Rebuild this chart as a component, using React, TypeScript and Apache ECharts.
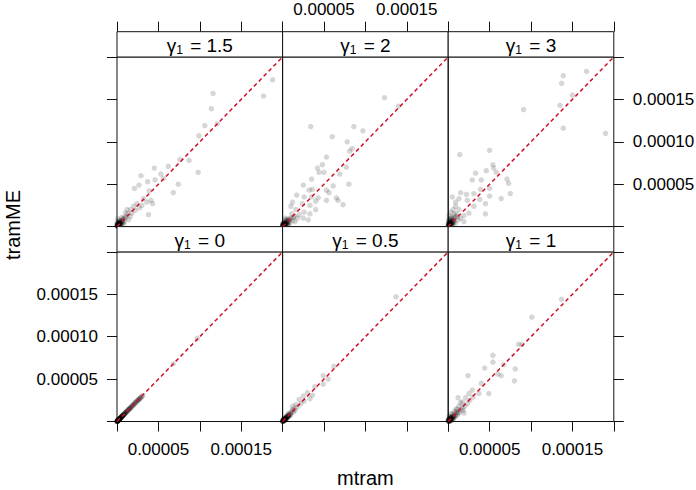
import React, { useEffect, useRef } from "react";
import * as echarts from "echarts";

// all values below are in units of 1e-5
const SCALE = 1e-5;
const AXIS_MIN = 0;
const AXIS_MAX = 20;
const AXIS_STEP = 5;

const panelGammas = ["0", "0.5", "1", "1.5", "2", "3"];
const xTickValues = [5, 15];
const yTickValues = [5, 10, 15];
const xTitle = "mtram";
const yTitle = "tramME";

const g0_mtram = [0.02, 0.05, 0.08, 0.1, 0.12, 0.15, 0.18, 0.2, 0.22, 0.25, 0.28, 0.3, 0.33, 0.36, 0.4, 0.43, 0.47, 0.5, 0.55, 0.6, 0.65, 0.7, 0.75, 0.8, 0.9, 1.0, 1.05, 1.15, 1.25, 1.35, 1.45, 1.55, 1.7, 1.85, 2.0, 2.2, 2.4, 2.6, 2.75, 3.1, 0.04, 0.12, 0.26, 0.38, 0.58, 0.85, 6.8, 9.7,
  0.01, 0.03, 0.06, 0.09, 0.11, 0.14, 0.16, 0.19, 0.21, 0.24, 0.27, 0.31, 0.34, 0.42, 0.45, 0.52, 0.62, 0.68, 0.78, 0.95, 1.1, 1.3, 1.5, 1.65, 1.9, 2.1, 2.3, 2.5, 2.7, 2.9,
  0.0, 0.02, 0.04, 0.07, 0.1, 0.13, 0.17, 0.23, 0.29, 0.35, 0.44, 0.56, 0.66, 0.72, 0.88, 0.98, 1.2, 1.4, 1.6, 1.8, 2.05, 2.25, 2.55, 2.8, 3.0, 0.06, 0.09, 0.15, 0.32, 0.48];
const g0_tramME = [0.03, 0.05, 0.07, 0.11, 0.12, 0.14, 0.19, 0.2, 0.23, 0.24, 0.29, 0.3, 0.32, 0.37, 0.4, 0.44, 0.46, 0.51, 0.54, 0.61, 0.64, 0.71, 0.74, 0.81, 0.89, 1.01, 1.04, 1.16, 1.24, 1.36, 1.44, 1.56, 1.69, 1.86, 2.0, 2.19, 2.42, 2.58, 2.7, 3.05, 0.05, 0.13, 0.25, 0.39, 0.57, 0.86, 6.8, 9.8,
  0.01, 0.04, 0.06, 0.08, 0.12, 0.13, 0.17, 0.18, 0.22, 0.25, 0.26, 0.31, 0.35, 0.41, 0.46, 0.52, 0.61, 0.69, 0.77, 0.94, 1.12, 1.28, 1.52, 1.63, 1.88, 2.12, 2.28, 2.47, 2.68, 2.85,
  0.0, 0.02, 0.05, 0.06, 0.1, 0.14, 0.16, 0.24, 0.28, 0.36, 0.43, 0.57, 0.65, 0.73, 0.87, 0.99, 1.18, 1.42, 1.58, 1.81, 2.03, 2.27, 2.5, 2.75, 2.95, 0.07, 0.08, 0.16, 0.31, 0.49];

const g05_mtram = [13.7, 6.2, 4.9, 5.5, 4.9, 3.9, 3.0, 3.6, 2.5, 2.0, 3.3, 1.6, 1.2, 0.1, 0.2, 0.3, 0.4, 0.5, 0.6, 0.7, 0.8, 0.9, 1.0, 1.1, 1.3, 1.4, 0.15, 0.25, 0.35, 0.05, 0.45, 0.55, 0.75, 0.65, 1.2, 1.5, 1.8, 2.2, 0.95, 0.3, 0.1, 0.02, 2.6,
  0.05, 0.12, 0.18, 0.22, 0.28, 0.33, 0.38, 0.42, 0.48, 0.52, 0.58, 0.62, 0.68, 0.72, 0.85, 0.02, 0.08, 0.16, 0.24, 0.4,
  0.0, 0.03, 0.06, 0.09, 0.13, 0.17, 0.21, 0.26, 0.31, 0.36, 0.02, 0.11];
const g05_tramME = [14.7, 6.5, 5.4, 5.0, 4.4, 4.1, 3.4, 3.1, 3.0, 2.6, 2.7, 2.0, 1.8, 0.1, 0.15, 0.35, 0.3, 0.55, 0.5, 0.8, 0.7, 1.0, 0.9, 1.2, 1.1, 1.5, 0.25, 0.1, 0.2, 0.05, 0.6, 0.4, 0.6, 0.9, 1.4, 1.3, 1.7, 2.1, 0.75, 0.5, 0.3, 0.1, 2.4,
  0.08, 0.1, 0.2, 0.18, 0.3, 0.28, 0.4, 0.35, 0.45, 0.5, 0.6, 0.55, 0.7, 0.65, 0.8, 0.04, 0.12, 0.14, 0.26, 0.45,
  0.02, 0.05, 0.04, 0.1, 0.12, 0.2, 0.18, 0.25, 0.3, 0.33, 0.0, 0.15];

const g1_mtram = [13.7, 10.1, 8.5, 8.9, 5.4, 5.4, 4.4, 6.7, 8.1, 6.0, 6.4, 2.4, 8.0, 4.0, 4.9, 2.9, 2.5, 3.7, 1.2, 2.1, 1.5, 2.3, 1.7, 1.9, 1.1, 0.1, 0.2, 0.3, 0.4, 0.5, 0.6, 0.7, 0.8, 0.9, 1.0, 0.15, 0.35, 0.55, 0.75, 1.3, 1.5, 0.05, 0.25, 0.45, 0.65, 1.1, 0.95, 1.3, 1.7, 2.0, 2.6, 3.0, 0.1, 0.3, 1.8,
  0.05, 0.12, 0.18, 0.22, 0.28, 0.33, 0.38, 0.42, 0.48, 0.52, 0.58, 0.02, 0.08, 0.16, 0.24, 0.68, 0.85, 1.2, 0.3, 0.15,
  0.0, 0.03, 0.06, 0.09, 0.13, 0.17, 0.21, 0.26, 0.31, 0.36, 0.02, 0.11];
const g1_tramME = [14.4, 12.3, 9.1, 9.1, 7.8, 7.0, 6.3, 6.7, 6.2, 5.6, 5.4, 5.4, 4.8, 4.5, 3.3, 3.7, 3.3, 3.3, 2.8, 2.8, 2.2, 2.1, 1.6, 1.0, 1.4, 0.1, 0.3, 0.15, 0.5, 0.3, 0.7, 0.5, 0.9, 0.6, 1.1, 0.4, 0.6, 0.9, 1.2, 1.0, 1.4, 0.2, 0.05, 0.2, 0.35, 0.8, 1.5, 1.8, 2.3, 1.8, 2.5, 2.9, 0.6, 0.9, 1.3,
  0.1, 0.08, 0.25, 0.15, 0.35, 0.2, 0.45, 0.3, 0.5, 0.4, 0.6, 0.05, 0.15, 0.2, 0.1, 0.55, 0.7, 1.1, 0.4, 0.3,
  0.05, 0.1, 0.02, 0.15, 0.2, 0.08, 0.3, 0.18, 0.25, 0.4, 0.22, 0.0];

const g15_mtram = [18.8, 17.7, 11.6, 11.4, 12.1, 10.6, 9.9, 7.6, 8.7, 9.8, 6.2, 4.5, 5.3, 5.6, 2.9, 2.65, 3.7, 4.6, 2.1, 3.9, 7.4, 6.8, 3.2, 4.1, 4.3, 3.8, 2.4, 2.7, 2.0, 1.6, 1.2, 1.0, 1.6, 0.8, 1.4, 3.6, 3.0, 0.1, 0.2, 0.3, 0.4, 0.5, 0.6, 0.7, 0.05, 0.15, 0.25, 0.35, 0.45, 0.55, 0.9, 1.1, 1.3, 0.1, 0.02, 0.2, 0.8, 1.8, 2.2,
  0.05, 0.12, 0.18, 0.22, 0.28, 0.33, 0.38, 0.42, 0.48, 0.52, 0.02, 0.08, 0.16, 0.24, 0.65, 0.75, 1.0, 0.3, 0.12, 0.6,
  0.0, 0.03, 0.06, 0.09, 0.13, 0.17, 0.21, 0.26, 0.31, 0.36, 0.02, 0.11];
const g15_tramME = [17.3, 15.4, 15.7, 13.9, 12.1, 11.9, 10.7, 7.9, 7.8, 6.4, 7.1, 6.9, 6.2, 5.7, 6.0, 4.9, 5.3, 5.5, 4.5, 4.2, 5.0, 4.0, 3.3, 3.1, 2.7, 1.4, 2.7, 2.2, 2.4, 2.0, 2.0, 1.6, 1.2, 1.0, 0.8, 2.9, 2.5, 0.1, 0.4, 0.2, 0.6, 0.3, 0.8, 0.5, 0.3, 0.05, 0.7, 0.45, 0.15, 1.1, 0.6, 1.2, 1.5, 0.9, 0.5, 0.2, 0.3, 1.6, 1.9,
  0.1, 0.15, 0.3, 0.25, 0.35, 0.3, 0.5, 0.4, 0.6, 0.45, 0.1, 0.2, 0.15, 0.5, 0.7, 0.9, 1.0, 0.6, 0.4, 0.45,
  0.05, 0.2, 0.1, 0.3, 0.05, 0.25, 0.15, 0.4, 0.2, 0.35, 0.25, 0.02];

const g2_mtram = [12.3, 14.0, 3.4, 8.6, 9.7, 6.0, 7.8, 8.4, 8.1, 5.3, 4.8, 4.2, 4.4, 5.0, 6.9, 7.7, 3.5, 2.5, 3.2, 3.6, 6.1, 8.0, 5.3, 5.6, 1.7, 2.6, 3.5, 4.3, 6.5, 6.7, 7.3, 5.3, 4.0, 1.2, 2.4, 3.3, 4.0, 1.0, 1.6, 2.6, 3.3, 2.5, 3.1, 2.0, 1.4, 0.1, 0.2, 0.3, 0.4, 0.5, 0.6, 0.7, 0.8, 0.9, 1.0, 0.15, 0.35, 0.05, 0.25, 0.45, 1.2, 0.55, 0.75, 1.1, 0.3, 0.02, 0.1, 1.5, 1.8,
  0.05, 0.12, 0.18, 0.22, 0.28, 0.33, 0.38, 0.42, 0.48, 0.52, 0.02, 0.08, 0.16, 0.24, 0.65, 0.85, 1.3, 0.6, 0.15, 0.4,
  0.0, 0.03, 0.06, 0.09, 0.13, 0.17, 0.21, 0.26, 0.31, 0.36, 0.02, 0.11];
const g2_tramME = [15.2, 14.2, 11.8, 11.8, 11.3, 10.6, 10.0, 9.2, 8.9, 8.2, 7.3, 6.9, 6.4, 6.4, 6.2, 7.0, 5.6, 4.9, 4.3, 4.4, 4.8, 5.0, 4.3, 4.0, 3.7, 3.5, 3.5, 3.4, 3.4, 3.1, 2.6, 3.1, 3.0, 2.9, 2.7, 2.5, 2.0, 2.4, 2.0, 1.7, 1.5, 1.0, 0.8, 1.4, 1.2, 0.1, 0.3, 0.15, 0.5, 0.2, 0.6, 0.4, 0.8, 0.5, 1.0, 0.5, 0.7, 0.2, 0.05, 0.3, 0.7, 0.9, 0.2, 1.5, 1.0, 0.4, 0.05, 0.6, 1.0,
  0.1, 0.15, 0.2, 0.35, 0.25, 0.4, 0.3, 0.55, 0.45, 0.5, 0.08, 0.25, 0.1, 0.2, 0.7, 0.9, 1.1, 0.3, 0.35, 0.8,
  0.05, 0.2, 0.1, 0.3, 0.05, 0.25, 0.15, 0.4, 0.2, 0.35, 0.25, 0.02];

const g3_mtram = [16.7, 13.9, 13.7, 15.0, 13.5, 9.1, 13.9, 19.0, 1.4, 5.0, 5.4, 5.5, 5.8, 4.6, 3.3, 2.9, 4.0, 7.1, 7.3, 5.0, 3.9, 3.1, 5.0, 7.5, 6.4, 2.2, 1.5, 0.5, 1.3, 2.3, 3.8, 4.5, 3.1, 4.5, 2.5, 1.9, 0.9, 0.9, 1.3, 1.9, 0.1, 0.2, 0.3, 0.4, 0.5, 0.6, 0.7, 0.8, 0.05, 0.15, 0.25, 0.35, 0.45, 0.55, 0.9, 1.0, 1.2, 0.1, 0.3, 0.6, 0.02, 1.5, 0.2, 0.7,
  0.05, 0.12, 0.18, 0.22, 0.28, 0.33, 0.38, 0.42, 0.48, 0.52, 0.02, 0.08, 0.16, 0.24, 0.65, 0.85, 1.1, 0.6, 0.15, 0.4,
  0.0, 0.03, 0.06, 0.09, 0.13, 0.17, 0.21, 0.26, 0.31, 0.36, 0.02, 0.11];
const g3_tramME = [18.3, 17.8, 16.9, 15.5, 14.3, 13.8, 11.6, 11.0, 8.5, 9.0, 7.3, 6.9, 6.4, 6.6, 6.3, 5.5, 5.5, 5.6, 5.1, 4.5, 4.4, 3.9, 3.6, 3.9, 3.3, 3.8, 4.0, 3.5, 3.3, 3.1, 3.2, 2.7, 2.4, 1.5, 1.6, 1.3, 2.9, 2.4, 2.0, 0.6, 0.1, 0.4, 0.2, 0.7, 0.3, 0.9, 0.5, 1.2, 0.3, 0.6, 0.05, 1.0, 0.15, 0.6, 0.4, 1.5, 0.8, 1.3, 1.7, 2.0, 0.8, 1.0, 0.2, 1.5,
  0.15, 0.2, 0.3, 0.5, 0.35, 0.6, 0.45, 0.4, 0.8, 0.5, 0.1, 0.4, 0.2, 0.9, 0.7, 1.0, 1.2, 0.4, 0.7, 1.1,
  0.1, 0.25, 0.05, 0.35, 0.15, 0.5, 0.3, 0.2, 0.6, 0.25, 0.45, 0.0];

const panelX = [g0_mtram, g05_mtram, g1_mtram, g15_mtram, g2_mtram, g3_mtram];
const panelY = [g0_tramME, g05_tramME, g1_tramME, g15_tramME, g2_tramME, g3_tramME];

// layout (pixels)
const COL_LEFT = [117, 282.6, 448.2];
const PANEL_W = 165.6;
const PANEL_H = 169.6;
const STRIP_H = 25.3;
const TOP_ROW_STRIP = 31.7;
const TOP_ROW_PANEL = TOP_ROW_STRIP + STRIP_H;
const BOT_ROW_STRIP = TOP_ROW_PANEL + PANEL_H;
const BOT_ROW_PANEL = BOT_ROW_STRIP + STRIP_H;

const FONT = "'Liberation Sans', Arial, Helvetica, sans-serif";

export default function App() {
  const ref = useRef<HTMLDivElement>(null);
  useEffect(() => {
    if (!ref.current) return;
    const chart = echarts.init(ref.current, undefined, { renderer: "svg" });

    const grids: any[] = [];
    const xAxes: any[] = [];
    const yAxes: any[] = [];
    const series: any[] = [];
    const graphics: any[] = [];

    const fmt = (v: number) => v.toFixed(5);

    for (let p = 0; p < 6; p++) {
      const isTop = p >= 3;
      const col = p % 3;
      const left = COL_LEFT[col];
      const top = isTop ? TOP_ROW_PANEL : BOT_ROW_PANEL;
      const stripTop = isTop ? TOP_ROW_STRIP : BOT_ROW_STRIP;
      grids.push({
        left,
        top,
        width: PANEL_W,
        height: PANEL_H,
        show: true,
        borderColor: "#111",
        borderWidth: 1,
        backgroundColor: "transparent",
        containLabel: false,
        outerBoundsMode: "none",
      });
      const showXLabel = isTop ? col === 1 : col !== 1;
      xAxes.push({
        type: "value",
        gridIndex: p,
        min: AXIS_MIN * SCALE,
        max: AXIS_MAX * SCALE,
        interval: AXIS_STEP * SCALE,
        position: isTop ? "top" : "bottom",
        offset: isTop ? STRIP_H : 0,
        axisLine: { show: false, onZero: false },
        axisTick: { show: true, inside: false, length: 10, lineStyle: { color: "#111", width: 1 } },
        axisLabel: {
          show: showXLabel,
          customValues: xTickValues.map((v) => v * SCALE),
          formatter: fmt,
          margin: isTop ? 14 : 19,
          color: "#000",
          fontSize: 17,
          fontFamily: FONT,
        },
        splitLine: { show: false },
      });
      const yShowTicks = col !== 1;
      const showYLabel = (col === 0 && !isTop) || (col === 2 && isTop);
      yAxes.push({
        type: "value",
        gridIndex: p,
        min: AXIS_MIN * SCALE,
        max: AXIS_MAX * SCALE,
        interval: AXIS_STEP * SCALE,
        position: col === 2 ? "right" : "left",
        axisLine: { show: false, onZero: false },
        axisTick: { show: yShowTicks, inside: false, length: 10, lineStyle: { color: "#111", width: 1 } },
        axisLabel: {
          show: showYLabel,
          customValues: yTickValues.map((v) => v * SCALE),
          formatter: fmt,
          margin: 19,
          color: "#000",
          fontSize: 17,
          fontFamily: FONT,
        },
        splitLine: { show: false },
      });
      const data = panelX[p].map((x, i) => [x * SCALE, panelY[p][i] * SCALE]);
      series.push({
        type: "scatter",
        xAxisIndex: p,
        yAxisIndex: p,
        data,
        symbol: "circle",
        symbolSize: 5.5,
        itemStyle: { color: "rgba(0,0,0,0.2)" },
        clip: true,
        silent: true,
        z: 2,
      });
      series.push({
        type: "line",
        xAxisIndex: p,
        yAxisIndex: p,
        data: [
          [AXIS_MIN * SCALE, AXIS_MIN * SCALE],
          [AXIS_MAX * SCALE, AXIS_MAX * SCALE],
        ],
        symbol: "none",
        silent: true,
        lineStyle: { color: "#d0102a", width: 1.5, type: [4, 3] },
        z: 3,
      });
      // strip
      graphics.push({
        type: "rect",
        shape: { x: left, y: stripTop, width: PANEL_W, height: STRIP_H },
        style: { fill: "#fff", stroke: "#111", lineWidth: 1 },
        z: 10,
      });
      graphics.push({
        type: "text",
        x: left + PANEL_W / 2,
        y: stripTop + STRIP_H / 2 + 1,
        style: {
          text: `{g|γ}{s|1}{t| = ${panelGammas[p]}}`,
          align: "center",
          verticalAlign: "middle",
          rich: {
            g: { fontSize: 19, fontFamily: FONT, fill: "#000", lineHeight: 21, verticalAlign: "middle" },
            s: { fontSize: 12, fontFamily: FONT, fill: "#000", lineHeight: 12, verticalAlign: "bottom", padding: [0, 2, 0, 0] },
            t: { fontSize: 19, fontFamily: FONT, fill: "#000", lineHeight: 21, verticalAlign: "middle" },
          },
        },
        z: 11,
      });
    }

    graphics.push({
      type: "text",
      x: (COL_LEFT[0] + COL_LEFT[2] + PANEL_W) / 2,
      y: 478,
      style: { text: xTitle, fontSize: 20, fontFamily: FONT, fill: "#000", align: "center", verticalAlign: "middle" },
    });
    graphics.push({
      type: "text",
      x: 13,
      y: 225,
      rotation: Math.PI / 2,
      style: { text: yTitle, fontSize: 20, fontFamily: FONT, fill: "#000", align: "center", verticalAlign: "middle" },
    });

    chart.setOption({
      animation: false,
      backgroundColor: "#fff",
      grid: grids,
      xAxis: xAxes,
      yAxis: yAxes,
      series,
      graphic: graphics,
    });
    return () => chart.dispose();
  }, []);
  return (
    <div
      ref={ref}
      style={{ position: "absolute", left: 0, top: 0, width: 696, height: 490 }}
    />
  );
}
